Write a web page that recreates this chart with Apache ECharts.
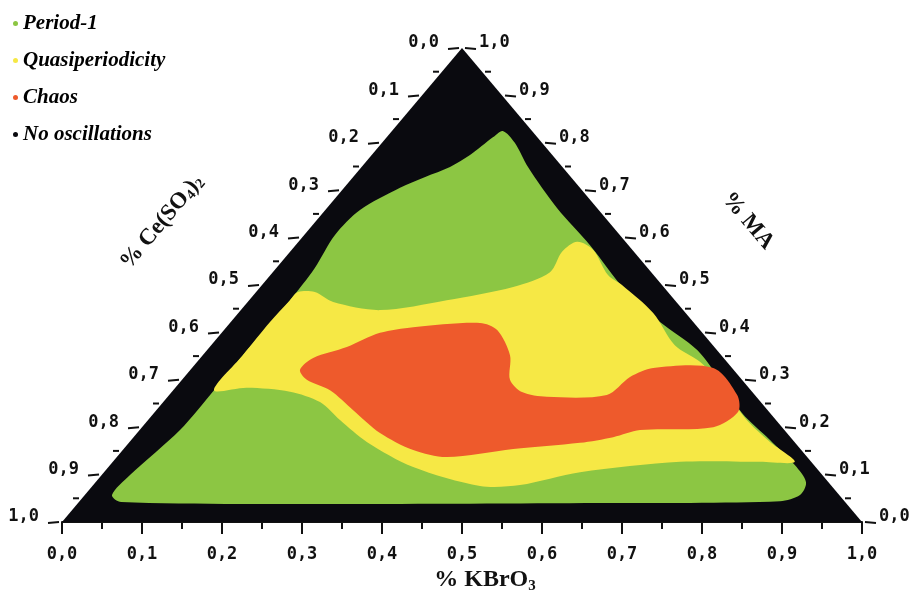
<!DOCTYPE html>
<html>
<head>
<meta charset="utf-8">
<script src="https://cdn.jsdelivr.net/npm/echarts@6/dist/echarts.min.js"></script>
<style>
html,body{margin:0;padding:0;background:#fff;}
#chart{width:913px;height:591px;}
</style>
</head>
<body>
<div id="chart"></div>
<script>
// Coordinates: x = % KBrO3 (bottom axis), y = % MA (right axis); % Ce(SO4)2 = 1 - y
const kbroTicks = [0,0.1,0.2,0.3,0.4,0.5,0.6,0.7,0.8,0.9,1.0];
const kbroTickLabels = ['0,0','0,1','0,2','0,3','0,4','0,5','0,6','0,7','0,8','0,9','1,0'];
const ceTicks = [0,0.1,0.2,0.3,0.4,0.5,0.6,0.7,0.8,0.9,1.0];
const ceTickLabels = ['0,0','0,1','0,2','0,3','0,4','0,5','0,6','0,7','0,8','0,9','1,0'];
const maTicks = [0,0.1,0.2,0.3,0.4,0.5,0.6,0.7,0.8,0.9,1.0];
const maTickLabels = ['0,0','0,1','0,2','0,3','0,4','0,5','0,6','0,7','0,8','0,9','1,0'];
const minorTicks = [0.05,0.15,0.25,0.35,0.45,0.55,0.65,0.75,0.85,0.95];

const legendNames = ['Period-1','Quasiperiodicity','Chaos','No oscillations'];

// Region outlines [KBrO3, MA]
const noOscillations = [[0,0],[1,0],[0.5,1]];
const period1 = [
  [0.074,0.042],[0.0625,0.057],[0.085,0.099],[0.1475,0.194],[0.19,0.278],[0.226,0.352],
  [0.285,0.468],[0.316,0.536],[0.341,0.605],[0.3725,0.658],[0.4225,0.705],[0.454,0.728],
  [0.485,0.749],[0.51,0.774],[0.539,0.812],[0.551,0.825],[0.566,0.800],[0.5825,0.749],
  [0.619,0.662],[0.66,0.584],[0.704,0.489],[0.7475,0.422],[0.794,0.363],[0.8225,0.300],
  [0.85,0.230],[0.885,0.173],[0.916,0.120],[0.93,0.084],[0.9225,0.057],[0.8975,0.044],
  [0.6725,0.040],[0.2975,0.038]
];
const quasiperiodicity = [
  [0.295,0.485],[0.316,0.485],[0.339,0.464],[0.3975,0.447],[0.481,0.468],[0.564,0.496],
  [0.61,0.527],[0.625,0.570],[0.644,0.591],[0.664,0.574],[0.6825,0.521],[0.70,0.500],
  [0.739,0.441],[0.766,0.373],[0.7975,0.338],[0.825,0.289],[0.854,0.219],[0.885,0.169],
  [0.916,0.127],[0.8725,0.127],[0.7725,0.127],[0.6475,0.105],[0.5725,0.078],[0.5225,0.076],
  [0.439,0.116],[0.381,0.169],[0.3475,0.215],[0.3225,0.253],[0.285,0.275],[0.231,0.283],
  [0.19,0.278],[0.226,0.352],[0.26,0.422],[0.285,0.468]
];
const chaos = [
  [0.2975,0.321],[0.314,0.346],[0.356,0.369],[0.3975,0.399],[0.439,0.411],[0.5225,0.420],
  [0.544,0.405],[0.56,0.352],[0.56,0.300],[0.575,0.274],[0.606,0.264],[0.681,0.268],
  [0.71,0.306],[0.739,0.325],[0.814,0.325],[0.844,0.268],[0.845,0.232],[0.814,0.200],
  [0.7225,0.194],[0.689,0.179],[0.6475,0.167],[0.564,0.154],[0.481,0.137],[0.439,0.152],
  [0.3975,0.188],[0.364,0.236],[0.335,0.278],[0.306,0.300]
];

const C_GREEN = '#8cc643', C_YELLOW = '#f6e845', C_RED = '#ee5a2c', C_BLACK = '#0a0a0f';
const tickFont = 'bold 17px "DejaVu Sans Mono"';

function regionSeries(name, pts, color, smooth) {
  return {
    type: 'custom', name: name, coordinateSystem: 'cartesian2d', clip: false,
    itemStyle: { color: color },
    encode: { x: 0, y: 1 },
    data: pts,
    renderItem: function (params, api) {
      if (params.dataIndex !== 0) return null;
      const p = pts.map(function (d) { return api.coord(d); });
      return { type: 'polygon', shape: { points: p, smooth: smooth }, style: { fill: color } };
    }
  };
}

function edgeTickSeries(values, labels, side, major) {
  // side 'left': Ce axis (value c at height 1-c); side 'right': MA axis (value m at height m)
  return {
    type: 'custom', name: side + (major ? 'Major' : 'Minor'), coordinateSystem: 'cartesian2d',
    clip: false, silent: true, z: 5,
    encode: { x: 0, y: 1 },
    data: values.map(function (v, i) {
      const h = side === 'left' ? 1 - v : v;
      const x = side === 'left' ? 0.5 * h : 1 - 0.5 * h;
      return [x, h, i];
    }),
    renderItem: function (params, api) {
      const p = api.coord([api.value(0), api.value(1)]);
      const i = api.value(2);
      const dir = side === 'left' ? -1 : 1;
      const len = major ? 11 : 6;
      const children = [{
        type: 'line',
        shape: { x1: p[0] + dir * 3, y1: p[1], x2: p[0] + dir * (3 + len), y2: p[1] + (major ? 1 : 0) },
        style: { stroke: '#111', lineWidth: 2 }
      }];
      if (major) {
        children.push({
          type: 'text',
          style: {
            text: labels[i], x: p[0] + dir * (side === 'left' ? 23 : 17), y: p[1] - 5,
            align: side === 'left' ? 'right' : 'left', verticalAlign: 'middle',
            font: tickFont, fill: '#111'
          }
        });
      }
      return { type: 'group', children: children };
    }
  };
}

const chart = echarts.init(document.getElementById('chart'));
chart.setOption({
  animation: false,
  backgroundColor: '#fff',
  grid: { left: 62, right: 51, top: 48, bottom: 69, containLabel: false, outerBoundsMode: 'none' },
  legend: {
    data: legendNames, orient: 'vertical', left: 8, top: 8, itemGap: 16,
    icon: 'circle', itemWidth: 5, itemHeight: 5, selectedMode: false,
    textStyle: { fontFamily: '"Liberation Serif"', fontWeight: 'bold', fontStyle: 'italic', fontSize: 21, color: '#000' }
  },
  xAxis: {
    type: 'value', min: 0, max: 1, interval: 0.1,
    axisLine: { show: true, lineStyle: { color: '#111', width: 2 } },
    axisTick: { show: true, inside: false, length: 12, lineStyle: { color: '#111', width: 2 } },
    minorTick: { show: true, splitNumber: 2, length: 7, lineStyle: { color: '#111', width: 2 } },
    splitLine: { show: false },
    axisLabel: {
      margin: 24, formatter: function (v, i) { return kbroTickLabels[i]; },
      fontFamily: '"DejaVu Sans Mono"', fontWeight: 'bold', fontSize: 17, color: '#111'
    },
    name: '{a|% KBrO}{s|3}', nameLocation: 'middle', nameGap: 43,
    nameTextStyle: {
      padding: [0, 0, 0, 46],
      rich: {
        a: { fontFamily: '"Liberation Serif"', fontWeight: 'bold', fontSize: 24, color: '#111' },
        s: { fontFamily: '"Liberation Serif"', fontWeight: 'bold', fontSize: 15, color: '#111', padding: [12, 0, 0, 0] }
      }
    }
  },
  yAxis: { type: 'value', min: 0, max: 1, show: false },
  graphic: [
    {
      type: 'text', x: 162, y: 222, rotation: 49.8 * Math.PI / 180,
      style: {
        text: '{a|% Ce(SO}{s|4}{a|)}{s|2}', align: 'center', verticalAlign: 'middle',
        rich: {
          a: { font: 'bold 23px "Liberation Serif"', fill: '#111' },
          s: { font: 'bold 14px "Liberation Serif"', fill: '#111', padding: [10, 0, 0, 0] }
        }
      }
    },
    {
      type: 'text', x: 748, y: 221, rotation: -49.8 * Math.PI / 180,
      style: { text: '% MA', align: 'center', verticalAlign: 'middle', font: 'bold 23px "Liberation Serif"', fill: '#111' }
    }
  ],
  series: [
    regionSeries('No oscillations', noOscillations, C_BLACK, 0),
    regionSeries('Period-1', period1, C_GREEN, 0.3),
    regionSeries('Quasiperiodicity', quasiperiodicity, C_YELLOW, 0.3),
    regionSeries('Chaos', chaos, C_RED, 0.3),
    edgeTickSeries(ceTicks, ceTickLabels, 'left', true),
    edgeTickSeries(minorTicks, [], 'left', false),
    edgeTickSeries(maTicks, maTickLabels, 'right', true),
    edgeTickSeries(minorTicks, [], 'right', false)
  ]
});
</script>
</body>
</html>
